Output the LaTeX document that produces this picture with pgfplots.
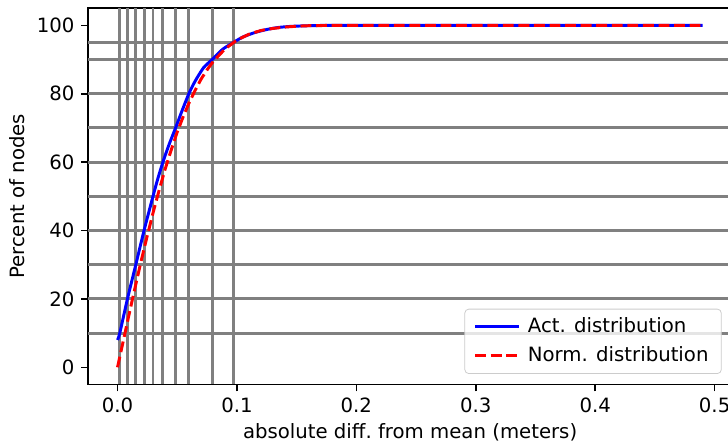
\documentclass[border=0pt]{standalone}
\usepackage{fontspec}
\setmainfont{DejaVu Sans}
\usepackage{pgfplots}
\pgfplotsset{compat=1.18}
\definecolor{mplgray}{HTML}{808080}
\begin{document}
\begin{tikzpicture}
\path[use as bounding box] (-44.8pt,-30.3pt) rectangle (324.7pt,195.1pt);
\clip (-44.8pt,-30.3pt) rectangle (324.7pt,195.1pt);
\begin{axis}[
  at={(0pt,0pt)}, anchor=south west,
  scale only axis, width=326.7pt, height=190.9pt,
  xmin=-0.0245, xmax=0.5145, ymin=-5, ymax=105,
  axis line style={black, line width=0.8pt},
  tick align=outside, major tick length=3.5pt,
  tick style={black, line width=0.8pt},
  xtick pos=left, ytick pos=left,
  xtick={0,0.1,0.2,0.3,0.4,0.5},
  xticklabels={0.0,0.1,0.2,0.3,0.4,0.5},
  ytick={0,20,40,60,80,100},
  /pgf/number format/assume math mode=true,
  ticklabel style={font=\fontsize{10}{12}\selectfont},
  label style={font=\fontsize{10}{12}\selectfont},
  xlabel={absolute diff.\ from mean (meters)},
  ylabel={Percent of nodes},
  every axis x label/.style={at={(axis description cs:0.5,-0.1278)}, anchor=center},
  every axis y label/.style={at={(axis description cs:-0.1099,0.5)}, rotate=90, anchor=center},
  extra x ticks={0.0019,0.0083,0.0153,0.0222,0.0297,0.038,0.0486,0.0597,0.0792,0.097},
  extra x tick labels={},
  extra x tick style={grid=major, major tick length=0pt, major grid style={mplgray, line width=1.5pt}},
  extra y ticks={10,20,30,40,50,60,70,80,90,95},
  extra y tick labels={},
  extra y tick style={grid=major, major tick length=0pt, major grid style={mplgray, line width=1.5pt}},
  legend style={at={(axis description cs:1,0)}, anchor=south east, xshift=-5.2pt, yshift=5.3pt,
    draw=black!20, rounded corners=2pt, fill=white, fill opacity=0.8, text opacity=1,
    font=\fontsize{10}{12}\selectfont, inner xsep=4.5pt, inner ysep=2.5pt, row sep=1.5pt},
  legend cell align=left,
  legend image code/.code={\draw[#1, line width=1.5pt] (0pt,0pt) -- (22pt,0pt);},
]
\addplot[blue, line width=1.5pt, smooth, tension=0.4] coordinates {
(0,8) (0.0019,10) (0.0083,20) (0.0153,30) (0.0222,40) (0.0297,50) (0.0336,55) (0.038,60)
(0.043,65) (0.0486,70) (0.054,75) (0.0597,80) (0.065,83.7) (0.072,87.6) (0.0792,90) (0.088,93) (0.097,95)
(0.105,96.6) (0.115,97.9) (0.125,98.8) (0.135,99.4) (0.145,99.7) (0.16,99.9) (0.18,100)
(0.25,100) (0.49,100)};
\addlegendentry{\hspace{2pt}Act. distribution}
\addplot[red, line width=1.5pt, dash pattern=on 5.5pt off 2.4pt] coordinates {
(0,0) (0.005,8.0) (0.01,16.0) (0.015,23.8) (0.02,31.4) (0.025,38.6) (0.03,45.5) (0.035,52.0)
(0.04,58.1) (0.045,63.6) (0.05,68.8) (0.055,73.3) (0.06,77.4) (0.065,81.0) (0.07,84.3) (0.075,87.0)
(0.08,89.4) (0.09,93.1) (0.10,95.7) (0.11,97.4) (0.12,98.5) (0.13,99.1) (0.14,99.5)
(0.15,99.75) (0.16,99.9) (0.18,100) (0.25,100) (0.49,100)};
\addlegendentry{\hspace{2pt}Norm. distribution}
\end{axis}
\end{tikzpicture}
\end{document}
